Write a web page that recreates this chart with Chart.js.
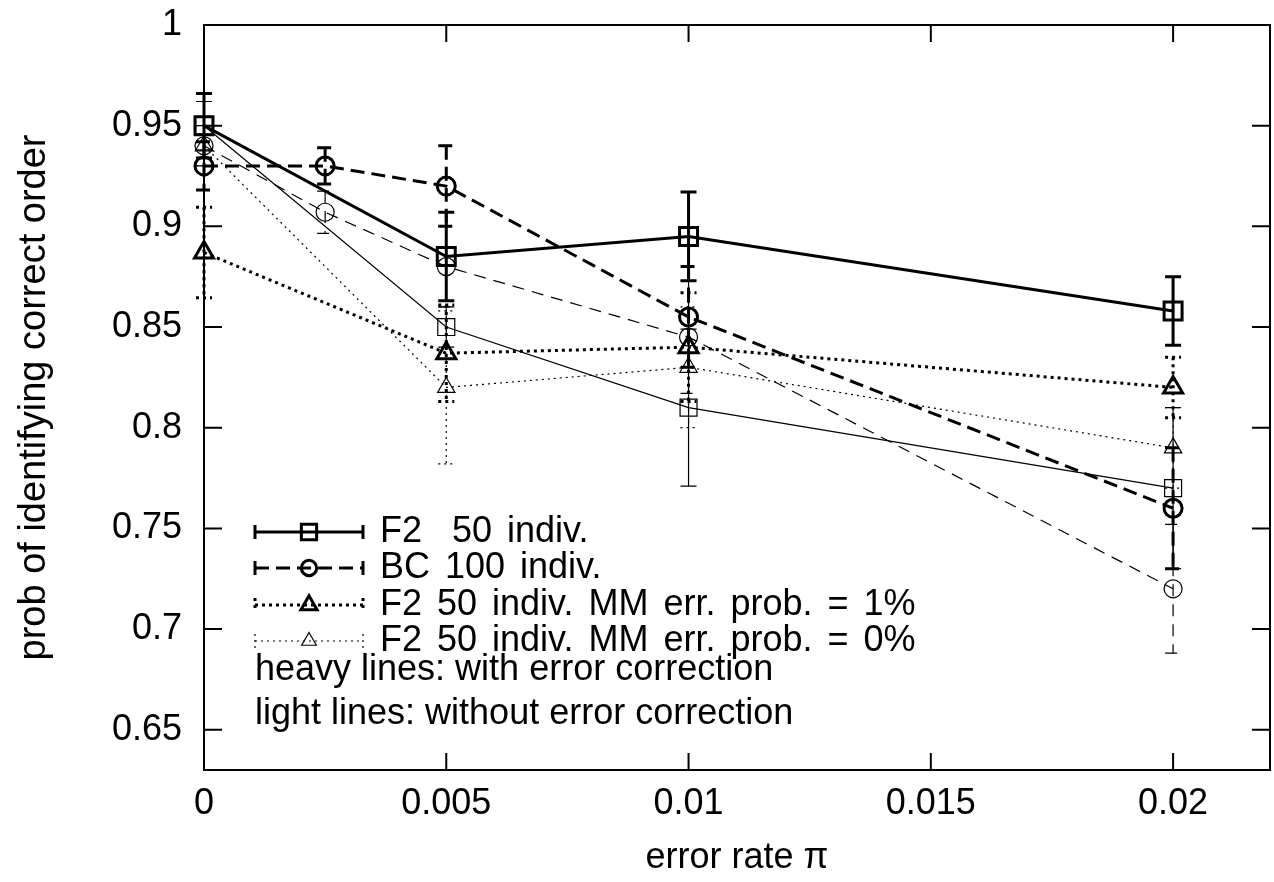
<!DOCTYPE html>
<html>
<head>
<meta charset="utf-8">
<title>prob of identifying correct order</title>
<script src="https://cdn.jsdelivr.net/npm/chart.js@4.4.1/dist/chart.umd.min.js"></script>
<style>
  html, body { margin: 0; padding: 0; background: #fff; }
  #wrap { width: 1274px; height: 882px; }
</style>
</head>
<body>
<div id="wrap"><canvas id="chart" width="1274" height="882"></canvas></div>
<script>
/* values */
var errorRates = [0, 0.005, 0.01, 0.02];
var errorRatesBC = [0, 0.0025, 0.005, 0.01, 0.02];
var xTicks = [0, 0.005, 0.01, 0.015, 0.02];
var yTicks = [0.65, 0.7, 0.75, 0.8, 0.85, 0.9, 0.95, 1];

var f2Heavy = [0.95, 0.885, 0.895, 0.858];
var f2HeavyErr = [0.016, 0.022, 0.022, 0.017];
var bcHeavy = [0.93, 0.93, 0.92, 0.855, 0.76];
var bcHeavyErr = [0.012, 0.009, 0.02, 0.025, 0.03];
var mm1Heavy = [0.887, 0.837, 0.84, 0.82];
var mm1HeavyErr = [0.0225, 0.024, 0.027, 0.015];
var f2Light = [0.95, 0.85, 0.81, 0.77];
var f2LightErr = [0.012, 0.01, 0.039, 0.04];
var bcLight = [0.94, 0.907, 0.88, 0.845, 0.72];
var bcLightErr = [0.01, 0.0105, 0.02, 0.028, 0.032];
var mm0Light = [0.94, 0.82, 0.83, 0.79];
var mm0LightErr = [0.01, 0.038, 0.03, 0.02];

var legendLabels = ['F2  50 indiv.', 'BC 100 indiv.', 'F2 50 indiv. MM err. prob. = 1%', 'F2 50 indiv. MM err. prob. = 0%'];
var noteLines = ['heavy lines: with error correction', 'light lines: without error correction'];

var FONT = '"Liberation Sans", Arial, Helvetica, sans-serif';

function pts(xs, ys) {
  return xs.map(function (x, i) { return { x: x, y: ys[i] }; });
}

function series(xs, ys, errs, heavy, dash, style, radius) {
  return {
    data: pts(xs, ys),
    errors: errs,
    showLine: true,
    clip: false,
    borderColor: '#000',
    borderWidth: heavy ? 3 : 1.2,
    borderDash: dash,
    pointStyle: style,
    pointRadius: radius,
    pointBorderWidth: heavy ? 3 : 1.2,
    pointBorderColor: '#000',
    pointBackgroundColor: 'rgba(0,0,0,0)'
  };
}

var datasets = [
  series(errorRates, f2Heavy, f2HeavyErr, true, [], 'rect', 12.7),
  series(errorRatesBC, bcHeavy, bcHeavyErr, true, [14, 7], 'circle', 9),
  series(errorRates, mm1Heavy, mm1HeavyErr, true, [3, 4], 'triangle', 11),
  series(errorRates, mm0Light, mm0LightErr, false, [2, 4], 'triangle', 10),
  series(errorRates, f2Light, f2LightErr, false, [], 'rect', 12),
  series(errorRatesBC, bcLight, bcLightErr, false, [12, 8], 'circle', 9)
];

// gnuplot-style error bars with caps
var errorBars = {
  id: 'errorBars',
  afterDatasetsDraw: function (chart) {
    var ctx = chart.ctx, xs = chart.scales.x, ys = chart.scales.y;
    ctx.save();
    chart.data.datasets.forEach(function (ds) {
      ctx.strokeStyle = '#000';
      ctx.lineWidth = ds.borderWidth;
      ctx.setLineDash(ds.borderDash);
      ds.data.forEach(function (p, i) {
        var e = ds.errors[i];
        var px = xs.getPixelForValue(p.x);
        var top = ys.getPixelForValue(p.y + e);
        var bot = ys.getPixelForValue(p.y - e);
        ctx.beginPath();
        ctx.moveTo(px, top); ctx.lineTo(px, bot);
        ctx.moveTo(px - 8, top); ctx.lineTo(px + 8, top);
        ctx.moveTo(px - 8, bot); ctx.lineTo(px + 8, bot);
        ctx.stroke();
      });
    });
    ctx.restore();
  }
};

// frame with inward ticks on all four sides, plus the in-plot key
var frameAndKey = {
  id: 'frameAndKey',
  afterDraw: function (chart) {
    var ctx = chart.ctx, a = chart.chartArea, xs = chart.scales.x, ys = chart.scales.y;
    ctx.save();
    ctx.strokeStyle = '#000';
    ctx.lineWidth = 2;
    ctx.setLineDash([]);
    ctx.strokeRect(a.left, a.top, a.right - a.left, a.bottom - a.top);
    ctx.beginPath();
    xTicks.forEach(function (v) {
      var p = xs.getPixelForValue(v);
      ctx.moveTo(p, a.bottom); ctx.lineTo(p, a.bottom - 17);
      ctx.moveTo(p, a.top); ctx.lineTo(p, a.top + 17);
    });
    yTicks.forEach(function (v) {
      var p = ys.getPixelForValue(v);
      ctx.moveTo(a.left, p); ctx.lineTo(a.left + 18, p);
      ctx.moveTo(a.right, p); ctx.lineTo(a.right - 18, p);
    });
    ctx.stroke();

    var rowY = [532, 568, 605, 641];
    var keySets = [0, 1, 2, 3];
    ctx.font = '36px ' + FONT;
    ctx.fillStyle = '#000';
    ctx.textBaseline = 'middle';
    ctx.textAlign = 'left';
    keySets.forEach(function (di, r) {
      var ds = chart.data.datasets[di];
      var y = rowY[r];
      ctx.strokeStyle = '#000';
      ctx.lineWidth = ds.borderWidth;
      ctx.setLineDash(ds.borderDash);
      ctx.beginPath();
      ctx.moveTo(255, y); ctx.lineTo(363, y);
      ctx.moveTo(255, y - 7); ctx.lineTo(255, y + 7);
      ctx.moveTo(363, y - 7); ctx.lineTo(363, y + 7);
      ctx.stroke();
      ctx.setLineDash([]);
      ctx.lineWidth = ds.pointBorderWidth;
      ctx.fillStyle = 'rgba(0,0,0,0)';
      Chart.helpers.drawPoint(ctx, {
        pointStyle: ds.pointStyle,
        radius: ds.pointRadius * 0.85,
        borderWidth: ds.pointBorderWidth,
        rotation: 0
      }, 309, y);
      ctx.fillStyle = '#000';
      ctx.wordSpacing = '5px';
      ctx.fillText(legendLabels[r], 380, y);
      ctx.wordSpacing = '0px';
    });
    ctx.fillText(noteLines[0], 255, 670);
    ctx.fillText(noteLines[1], 255, 714);
    ctx.restore();
  }
};

new Chart(document.getElementById('chart'), {
  type: 'scatter',
  data: { datasets: datasets },
  plugins: [errorBars, frameAndKey],
  options: {
    responsive: false,
    animation: false,
    devicePixelRatio: 1,
    layout: { autoPadding: false, padding: { top: 25, right: 4, left: 0, bottom: 0 } },
    plugins: { legend: { display: false }, tooltip: { enabled: false } },
    scales: {
      x: {
        type: 'linear',
        min: 0,
        max: 0.022,
        afterBuildTicks: function (s) { s.ticks = xTicks.map(function (v) { return { value: v }; }); },
        afterFit: function (s) {
          s.height = 112;
          s.paddingLeft = 0; s.paddingRight = 0;
        },
        grid: { display: false, drawTicks: false },
        border: { display: false },
        ticks: {
          color: '#000',
          font: { family: FONT, size: 36 },
          padding: 12,
          maxRotation: 0,
          autoSkip: false,
          callback: function (v) { return String(v); }
        },
        title: {
          display: true,
          text: 'error rate π',
          color: '#000',
          font: { family: FONT, size: 36 },
          padding: { top: 0, bottom: 2 }
        }
      },
      y: {
        type: 'linear',
        min: 0.63,
        max: 1,
        afterBuildTicks: function (s) { s.ticks = yTicks.map(function (v) { return { value: v }; }); },
        afterFit: function (s) {
          s.width = 204;
          s.paddingTop = 0; s.paddingBottom = 0;
        },
        grid: { display: false, drawTicks: false },
        border: { display: false },
        ticks: {
          color: '#000',
          font: { family: FONT, size: 36 },
          padding: 22,
          autoSkip: false,
          callback: function (v) { return String(v); }
        },
        title: {
          display: true,
          text: 'prob of identifying correct order',
          color: '#000',
          font: { family: FONT, size: 38 },
          padding: { top: 12, bottom: 0 }
        }
      }
    }
  }
});
</script>
</body>
</html>
